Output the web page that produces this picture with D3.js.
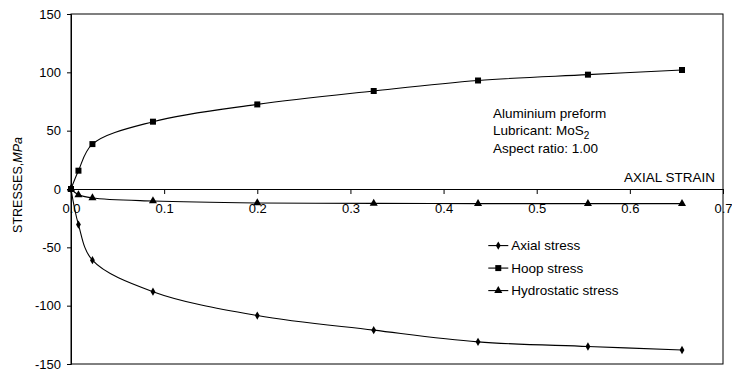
<!DOCTYPE html>
<html>
<head>
<meta charset="utf-8">
<script src="https://cdn.jsdelivr.net/npm/d3@7"></script>
<style>
  body { margin: 0; background: #fff; }
  text { font-family: "Liberation Sans", Arial, sans-serif; fill: #000; }
</style>
</head>
<body>
<div id="chart"></div>
<script>
var svgWidth = 732;
var svgHeight = 373;

var margin = { top: 14, right: 9, bottom: 9, left: 71 };
var width = svgWidth - margin.left - margin.right;
var height = svgHeight - margin.top - margin.bottom;

// data
var strain = [0, 0.008, 0.023, 0.088, 0.2, 0.325, 0.437, 0.555, 0.656];
var axialStress = [0, -30.5, -61, -88, -108.5, -121, -131, -135, -138];
var hoopStress = [0, 15.7, 38.5, 57.7, 72.5, 84, 93, 98, 102];
var hydroStress = [0, -5, -7.7, -10.3, -12, -12.3, -12.5, -12.5, -12.5];

var xTicks = [0, 0.1, 0.2, 0.3, 0.4, 0.5, 0.6, 0.7];
var yTicks = [-150, -100, -50, 0, 50, 100, 150];

var seriesNames = ["Axial stress", "Hoop stress", "Hydrostatic stress"];
var noteLines = ["Aluminium preform", "Lubricant: MoS", "Aspect ratio: 1.00"];

var svg = d3.select("#chart")
  .append("svg")
  .attr("width", svgWidth)
  .attr("height", svgHeight);

var chartGroup = svg.append("g")
  .attr("transform", `translate(${margin.left}, ${margin.top})`);

var xLinearScale = d3.scaleLinear().domain([0, 0.7]).range([0, width]);
var yLinearScale = d3.scaleLinear().domain([-150, 150]).range([height, 0]);

// frame
chartGroup.append("rect")
  .attr("width", width)
  .attr("height", height)
  .attr("fill", "none")
  .attr("stroke", "#000")
  .attr("stroke-width", 1);

// y axis
var leftAxis = d3.axisLeft(yLinearScale)
  .tickValues(yTicks)
  .tickSize(4)
  .tickPadding(6)
  .tickFormat(d => String(d));

var yAxisG = chartGroup.append("g").call(leftAxis);
yAxisG.select(".domain").attr("stroke", "#000");
yAxisG.selectAll("text").style("font-size", "13px").attr("font-family", null);

// x axis on the zero line
var bottomAxis = d3.axisBottom(xLinearScale)
  .tickValues(xTicks)
  .tickSize(5)
  .tickPadding(10)
  .tickFormat(d3.format(".1f"));

var xAxisG = chartGroup.append("g")
  .attr("transform", `translate(0, ${yLinearScale(0)})`)
  .call(bottomAxis);
xAxisG.selectAll("text").style("font-size", "13px").attr("font-family", null);

// axis titles
var yTitle = chartGroup.append("text")
  .attr("transform", "rotate(-90)")
  .attr("x", -yLinearScale(0) + 4)
  .attr("y", -49)
  .attr("text-anchor", "middle")
  .style("font-size", "12.5px");
yTitle.append("tspan").text("STRESSES,");
yTitle.append("tspan").style("font-style", "italic").text("MPa");

chartGroup.append("text")
  .attr("x", width - 8)
  .attr("y", yLinearScale(0) - 7)
  .attr("text-anchor", "end")
  .style("font-size", "13.5px")
  .text("AXIAL STRAIN");

// series
var series = [
  { name: seriesNames[0], values: axialStress, symbol: d3.symbolDiamond, size: 20 },
  { name: seriesNames[1], values: hoopStress, symbol: d3.symbolSquare, size: 36 },
  { name: seriesNames[2], values: hydroStress, symbol: d3.symbolTriangle, size: 28 }
];

var line = d3.line()
  .x(d => xLinearScale(d[0]))
  .y(d => yLinearScale(d[1]))
  .curve(d3.curveCatmullRom.alpha(0.5));

series.forEach(function (s) {
  var pts = strain.map((x, i) => [x, s.values[i]]);
  chartGroup.append("path")
    .datum(pts)
    .attr("d", line)
    .attr("fill", "none")
    .attr("stroke", "#000")
    .attr("stroke-width", 1.1);

  chartGroup.selectAll(null)
    .data(pts)
    .enter()
    .append("path")
    .attr("transform", d => `translate(${xLinearScale(d[0])}, ${yLinearScale(d[1])})`)
    .attr("d", d3.symbol().type(s.symbol).size(s.size))
    .attr("fill", "#000");
});

// annotation
var note = chartGroup.append("g")
  .attr("transform", `translate(${xLinearScale(0.453)}, ${117.5 - margin.top})`);
note.append("text").attr("y", 0).style("font-size", "13.5px").text(noteLines[0]);
var lub = note.append("text").attr("y", 17.5).style("font-size", "13.5px");
lub.append("tspan").text(noteLines[1]);
lub.append("tspan").attr("dy", 4).style("font-size", "10px").text("2");
note.append("text").attr("y", 35).style("font-size", "13.5px").text(noteLines[2]);

// legend
var legend = chartGroup.selectAll(".legend")
  .data(series)
  .enter()
  .append("g")
  .attr("class", "legend")
  .attr("transform", (d, i) => `translate(${xLinearScale(0.448)}, ${yLinearScale(-48.5) + i * 22.5})`);

legend.append("line")
  .attr("x1", 0).attr("x2", 20)
  .attr("stroke", "#000")
  .attr("stroke-width", 1.1);

legend.append("path")
  .attr("transform", "translate(10, 0)")
  .attr("d", d => d3.symbol().type(d.symbol).size(d.size)())
  .attr("fill", "#000");

legend.append("text")
  .attr("x", 23)
  .attr("dy", "0.35em")
  .style("font-size", "13.5px")
  .text(d => d.name);
</script>
</body>
</html>
